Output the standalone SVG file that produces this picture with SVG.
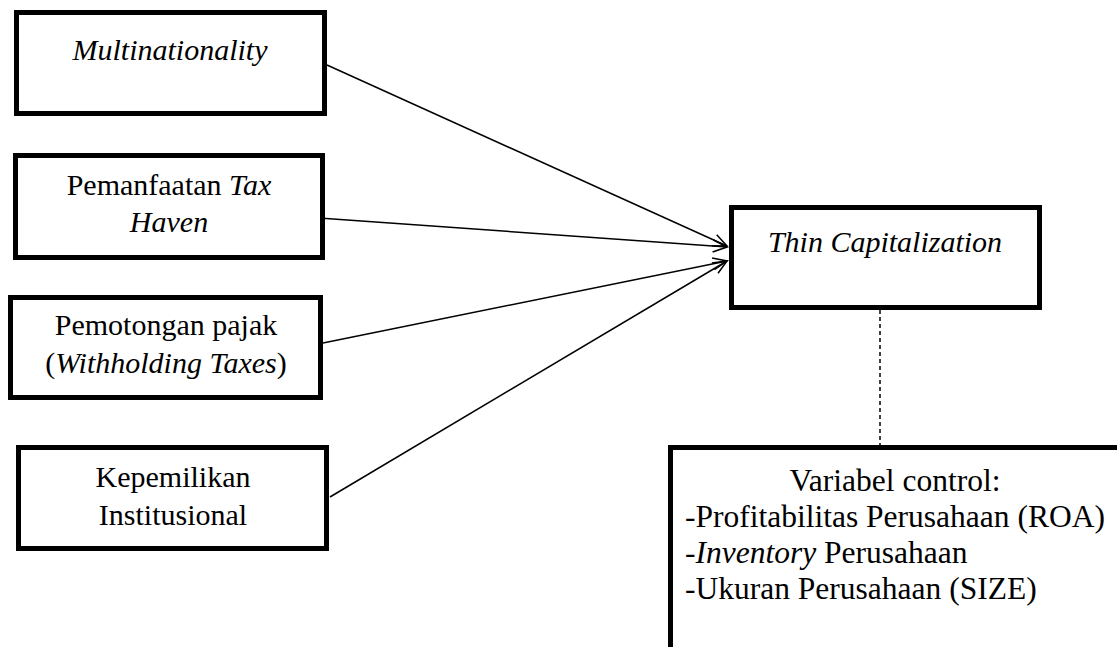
<svg xmlns="http://www.w3.org/2000/svg" width="1117" height="647" viewBox="0 0 1117 647">
<style>
.box{fill:#fff;stroke:#000;stroke-width:5}
.t{font-family:"Liberation Serif","Times New Roman",serif;font-size:30px;fill:#000}
.b{font-size:31.5px}
.c{text-anchor:middle}
.i{font-style:italic}
.conn{stroke:#000;stroke-width:1.5;fill:none}
</style>
<defs>
<marker id="arr" markerUnits="userSpaceOnUse" markerWidth="18" markerHeight="16" refX="15" refY="7" orient="auto">
<path d="M1,1 L15,7 L1,13" fill="none" stroke="#000" stroke-width="1.5"/>
</marker>
</defs>
<rect width="1117" height="647" fill="#fff"/>
<g id="connectors">
<line class="conn" x1="327" y1="65" x2="727" y2="246" marker-end="url(#arr)"/>
<line class="conn" x1="319" y1="218" x2="727" y2="247" marker-end="url(#arr)"/>
<line class="conn" x1="323" y1="343" x2="727" y2="261" marker-end="url(#arr)"/>
<line class="conn" x1="330" y1="497" x2="727" y2="261" marker-end="url(#arr)"/>
<line class="conn" x1="880" y1="310" x2="880" y2="445" stroke-width="1.2" stroke-dasharray="4,3"/>
</g>
<g id="multinationality">
<rect class="box" x="16.5" y="12.5" width="308" height="101"/>
<text class="t c i" x="170" y="60">Multinationality</text>
</g>
<g id="tax-haven">
<rect class="box" x="15.5" y="155.5" width="307" height="102"/>
<text class="t c" x="169" y="195">Pemanfaatan <tspan class="i">Tax</tspan></text>
<text class="t c i" x="169" y="232">Haven</text>
</g>
<g id="withholding">
<rect class="box" x="10.5" y="297.5" width="310" height="100"/>
<text class="t c" x="166" y="335">Pemotongan pajak</text>
<text class="t c" x="166" y="373">(<tspan class="i">Withholding Taxes</tspan>)</text>
</g>
<g id="kepemilikan">
<rect class="box" x="18.5" y="447.5" width="308" height="101"/>
<text class="t c" x="173" y="487">Kepemilikan</text>
<text class="t c" x="173" y="525">Institusional</text>
</g>
<g id="thin-cap">
<rect class="box" x="731.5" y="207.5" width="308" height="100"/>
<text class="t c i" x="885" y="252">Thin Capitalization</text>
</g>
<g id="control">
<rect class="box" x="670.5" y="447.5" width="480" height="240"/>
<text class="t b c" x="895" y="491">Variabel control:</text>
<text class="t b" x="685" y="527">-Profitabilitas Perusahaan (ROA)</text>
<text class="t b" x="685" y="563">-<tspan class="i">Inventory</tspan> Perusahaan</text>
<text class="t b" x="685" y="599">-Ukuran Perusahaan (SIZE)</text>
</g>
</svg>
